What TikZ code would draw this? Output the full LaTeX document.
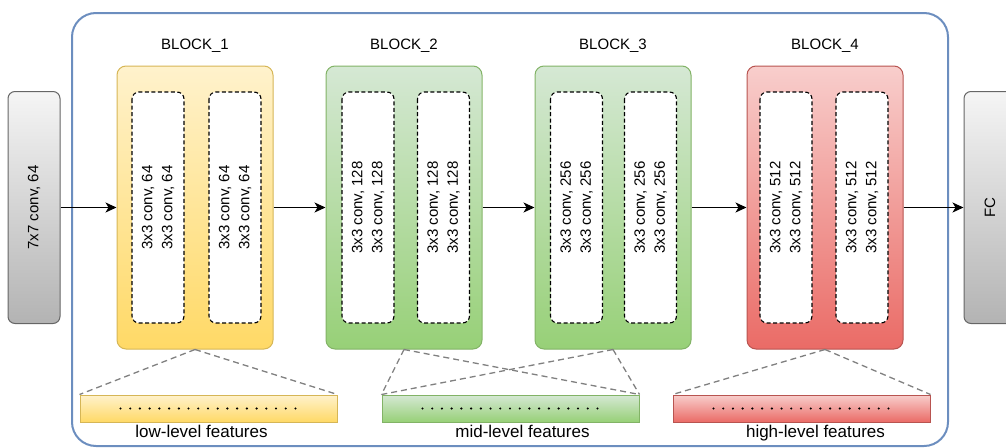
\documentclass[tikz,border=0pt]{standalone}
\usepackage{fontspec}
\setmainfont{Liberation Sans}
\usetikzlibrary{positioning, arrows.meta}

\definecolor{framecol}{HTML}{6C8EBF}
\definecolor{graytop}{HTML}{F5F5F5}
\definecolor{graybot}{HTML}{B3B3B3}
\definecolor{graydraw}{HTML}{666666}
\definecolor{yellowtop}{HTML}{FFF2CC}
\definecolor{yellowbot}{HTML}{FFD966}
\definecolor{yellowdraw}{HTML}{D6B656}
\definecolor{greentop}{HTML}{D5E8D4}
\definecolor{greenbot}{HTML}{97D077}
\definecolor{greendraw}{HTML}{82B366}
\definecolor{redtop}{HTML}{F8CECC}
\definecolor{redbot}{HTML}{EA6B66}
\definecolor{reddraw}{HTML}{B85450}
\definecolor{fancol}{HTML}{808080}

\begin{document}
\begin{tikzpicture}[x=1pt, y=-1pt, node distance=9pt, font=\fontsize{15}{20}\selectfont,
            frame/.style={draw=framecol, line width=2pt, rounded corners=24pt, minimum width=876pt, minimum height=433pt},
            layer/.style={draw=graydraw, line width=1pt, rounded corners=7pt, top color=graytop, bottom color=graybot, minimum width=52pt, minimum height=232pt, inner sep=0pt},
            block/.style={line width=1pt, rounded corners=9pt, minimum width=156pt, minimum height=283pt},
            yellowish/.style={draw=yellowdraw, top color=yellowtop, bottom color=yellowbot},
            greenish/.style={draw=greendraw, top color=greentop, bottom color=greenbot},
            reddish/.style={draw=reddraw, top color=redtop, bottom color=redbot},
            conv/.style={draw, dash pattern=on 4pt off 2.5pt, line width=1.1pt, fill=white, rounded corners=7pt, rotate=90, minimum width=231pt, minimum height=52pt, align=center, inner sep=0pt},
            feat/.style={line width=1pt, minimum width=257pt, minimum height=27pt},
            featlabel/.style={font=\fontsize{17}{20}\selectfont, inner sep=2pt},
            fan/.style={draw=fancol, dash pattern=on 6pt off 4pt, line width=1.3pt},
            arrow/.style={-{Stealth[length=11pt, width=10pt, inset=3pt]}, line width=1.3pt}]
            \useasboundingbox (0,0) rectangle (1006,447);
            \node[frame] (frame) at (510,229.5) {};
            \node[layer] (first) at (34,207.5) {\rotatebox{90}{7x7 conv, 64}};
            \node[layer] (fc) at (990,207.5) {\rotatebox{90}{FC}};
            \node[block, yellowish] (b1) at (195,207.5) {};
            \node[block, greenish] (b2) at (404,207.5) {};
            \node[block, greenish] (b3) at (613,207.5) {};
            \node[block, reddish] (b4) at (825,207.5) {};
            \node[above=of b1] (t1) {BLOCK\_1};
            \node[above=of b2] (t2) {BLOCK\_2};
            \node[above=of b3] (t3) {BLOCK\_3};
            \node[above=of b4] (t4) {BLOCK\_4};
            \node[conv] (c11) at (158,207.5) {3x3 conv, 64\\3x3 conv, 64};
            \node[conv] (c12) at (235,207.5) {3x3 conv, 64\\3x3 conv, 64};
            \node[conv] (c21) at (368,207.5) {3x3 conv, 128\\3x3 conv, 128};
            \node[conv] (c22) at (443.5,207.5) {3x3 conv, 128\\3x3 conv, 128};
            \node[conv] (c31) at (576.5,207.5) {3x3 conv, 256\\3x3 conv, 256};
            \node[conv] (c32) at (650.5,207.5) {3x3 conv, 256\\3x3 conv, 256};
            \node[conv] (c41) at (786,207.5) {3x3 conv, 512\\3x3 conv, 512};
            \node[conv] (c42) at (862,207.5) {3x3 conv, 512\\3x3 conv, 512};
            \draw[arrow] (first) -- (b1);
            \draw[arrow] (b1) -- (b2);
            \draw[arrow] (b2) -- (b3);
            \draw[arrow] (b3) -- (b4);
            \draw[arrow] (b4) -- (fc);
            \node[feat, yellowish] (f1) at (208.5,408.5) {};
            \node[feat, greenish] (f2) at (510.5,408.5) {};
            \node[feat, reddish] (f3) at (801.5,408.5) {};
            \foreach \f in {f1,f2,f3}
                \foreach \i in {0,...,18}
                    \fill ([xshift=41pt+\i*9.72pt]\f.west) circle (1.2pt);
            \node[featlabel, below=0pt of f1, xshift=-7pt] (l1) {low-level features};
            \node[featlabel, below=0pt of f2, xshift=12pt] (l2) {mid-level features};
            \node[featlabel, below=0pt of f3, xshift=14pt] (l3) {high-level features};
            \path[fan] (b1.south) -- (f1.north west) (b1.south) -- (f1.north east);
            \path[fan] (b2.south) -- (f2.north west) (b2.south) -- (f2.north east);
            \path[fan] (b3.south) -- (f2.north west) (b3.south) -- (f2.north east);
            \path[fan] (b4.south) -- (f3.north west) (b4.south) -- (f3.north east);
        \end{tikzpicture}
\end{document}
